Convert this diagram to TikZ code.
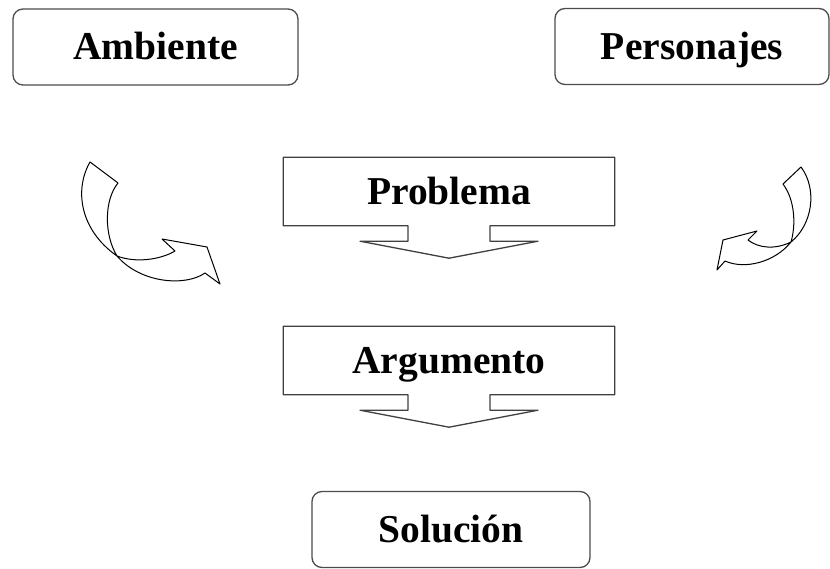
\documentclass[tikz,border=0pt]{standalone}
\usepackage{fontspec}
\setmainfont{Liberation Serif}
\usetikzlibrary{calc}

\begin{document}
\begin{tikzpicture}[x=1pt, y=-1pt, node distance=169pt,
    labeltext/.style={font=\bfseries\fontsize{39.5}{40}\selectfont, text height=26pt, text depth=0pt},
    topbox/.style={labeltext, draw=black!70, line width=1.3pt, rounded corners=10pt, minimum height=76pt},
    callbox/.style={labeltext, minimum width=331pt, minimum height=68pt},
    callline/.style={draw=black!75, line width=1.3pt, line join=round},
    twist/.style={draw=black, line width=1pt, line join=round}]
  \useasboundingbox (0,0) rectangle (830,569);

  \node [topbox, minimum width=285pt] (amb) at (155.5,47) {Ambiente};
  \node [topbox, minimum width=274pt] (pers) at (692,46.5) {Personajes};

  \node [callbox] (prob) at (449,191.5) {Problema};
  \node [callbox, below of=prob] (arg) {Argumento};
  \node [topbox, minimum width=278pt, below of=arg, xshift=2pt] (sol) {Solución};

  \foreach \n in {prob,arg} {
    \draw [callline] (\n.south east) -- (\n.north east) -- (\n.north west) -- (\n.south west)
      -- ($(\n.south)+(-41,0)$) -- ++(0,15.5) -- ++(-48,0) -- ($(\n.south)+(0,32.5)$)
      -- ($(\n.south)+(89,15.5)$) -- ++(-48,0) -- ($(\n.south)+(41,0)$) -- cycle;
  }

  \draw [twist] (90,162) -- (118,183) .. controls (104,200) and (104,235) .. (117,256)
    .. controls (135,263) and (160,260) .. (175,251) -- (162,239) -- (207,247) -- (220,284) -- (205,273)
    .. controls (185,287) and (140,283) .. (117,256) .. controls (80,230) and (74,190) .. (90,162) -- cycle;

  \draw [twist] (801,167) -- (783,184) .. controls (795,200) and (796,225) .. (791,242)
    .. controls (775,250) and (758,248) .. (748,240) -- (757,231) -- (723,240) -- (717,270) -- (725,261)
    .. controls (745,270) and (775,262) .. (791,242) .. controls (812,225) and (818,190) .. (801,167) -- cycle;
\end{tikzpicture}
\end{document}
